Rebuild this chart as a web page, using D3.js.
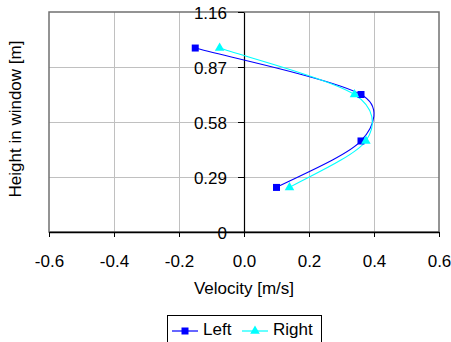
<!DOCTYPE html>
<html><head><meta charset="utf-8">
<script src="https://cdn.jsdelivr.net/npm/d3@7"></script>
<style>body{margin:0;background:#fff}svg{display:block}text{font-family:"Liberation Sans",Arial,sans-serif;fill:#000}</style>
</head><body><div id="chart"></div>
<script>
const heights = [0.97, 0.725, 0.48, 0.235];
const leftValues = [-0.15, 0.36, 0.36, 0.10];
const rightValues = [-0.075, 0.34, 0.375, 0.14];
const xTicks = [-0.6, -0.4, -0.2, 0.0, 0.2, 0.4, 0.6];
const yTicks = [0, 0.29, 0.58, 0.87, 1.16];
const seriesNames = ["Left", "Right"];
const seriesColors = ["#0000ff", "#00ffff"];

const W = 451, H = 342;
const svg = d3.select("#chart").append("svg").attr("width", W).attr("height", H);
const x = d3.scaleLinear().domain([-0.6, 0.6]).range([49, 439]);
const y = d3.scaleLinear().domain([0, 1.16]).range([232, 12]);
const FS = 17;

// Excel-like smoothing curve (Bezier, tension 1/6, arm capped at half segment)
function ExcelCurve(context) { this._context = context; }
ExcelCurve.prototype = {
  areaStart() {}, areaEnd() {},
  lineStart() { this._pts = []; },
  point(px, py) { this._pts.push([+px, +py]); },
  lineEnd() {
    const p = this._pts, c = this._context, n = p.length;
    if (!n) return;
    const dist = (a, b) => Math.hypot(a[0] - b[0], a[1] - b[1]);
    c.moveTo(p[0][0], p[0][1]);
    for (let i = 0; i < n - 1; i++) {
      const p0 = p[i - 1] || p[i], p1 = p[i], p2 = p[i + 1], p3 = p[i + 2] || p[i + 1];
      const d12 = dist(p1, p2), d02 = dist(p0, p2), d13 = dist(p1, p3);
      const f1 = d02 > 0 ? Math.min(1 / 6, d12 / 2 / d02) : 0;
      const f2 = d13 > 0 ? Math.min(1 / 6, d12 / 2 / d13) : 0;
      c.bezierCurveTo(p1[0] + (p2[0] - p0[0]) * f1, p1[1] + (p2[1] - p0[1]) * f1,
                      p2[0] - (p3[0] - p1[0]) * f2, p2[1] - (p3[1] - p1[1]) * f2,
                      p2[0], p2[1]);
    }
  }
};
const curveExcel = ctx => new ExcelCurve(ctx);

// gridlines
svg.append("g").selectAll("line").data(xTicks.filter(t => t > -0.6 && t < 0.6 && t !== 0)).enter()
  .append("line").attr("x1", d => Math.round(x(d)) + 0.5).attr("x2", d => Math.round(x(d)) + 0.5)
  .attr("y1", y(1.16)).attr("y2", y(0)).attr("stroke", "#c0c0c0").attr("stroke-width", 1);
svg.append("g").selectAll("line").data(yTicks.filter(t => t > 0 && t < 1.16)).enter()
  .append("line").attr("y1", d => Math.round(y(d)) + 0.5).attr("y2", d => Math.round(y(d)) + 0.5)
  .attr("x1", x(-0.6)).attr("x2", x(0.6)).attr("stroke", "#c0c0c0").attr("stroke-width", 1);

// frame
svg.append("rect").attr("x", x(-0.6)).attr("y", y(1.16)).attr("width", x(0.6) - x(-0.6)).attr("height", y(0) - y(1.16))
  .attr("fill", "none").attr("stroke", "#707070").attr("stroke-width", 1.5);

// x axis
const xAxis = d3.axisBottom(x).tickValues(xTicks).tickFormat(d3.format(".1f")).tickSize(5).tickSizeOuter(0);
const gx = svg.append("g").attr("transform", `translate(0,${y(0)})`).call(xAxis);
gx.select(".domain").attr("stroke", "#000").attr("stroke-width", 1.5);
gx.selectAll(".tick line").attr("stroke", "#000");
gx.selectAll(".tick text").attr("font-size", FS).attr("font-family", '"Liberation Sans",Arial,sans-serif')
  .attr("y", 0).attr("dy", 0).attr("transform", "translate(0,35)").attr("fill", "#000")
  .text(d => d3.format(".1f")(d).replace("−", "-"));

// y axis at x=0
const yAxis = d3.axisLeft(y).tickValues(yTicks).tickFormat(d => d === 0 ? "0" : d3.format(".2f")(d)).tickSize(6).tickSizeOuter(0);
const gy = svg.append("g").attr("transform", `translate(${x(0)},0)`).call(yAxis);
gy.select(".domain").attr("stroke", "#000").attr("stroke-width", 1.2);
gy.selectAll(".tick line").attr("stroke", "#000").attr("x2", -6);
gy.selectAll(".tick text").attr("font-size", FS).attr("font-family", '"Liberation Sans",Arial,sans-serif')
  .attr("x", -17).attr("dy", "0.36em").attr("fill", "#000");

// axis titles
svg.append("text").attr("x", 244).attr("y", 294).attr("text-anchor", "middle").attr("font-size", FS).text("Velocity [m/s]");
svg.append("text").attr("transform", "translate(21,119) rotate(-90)").attr("text-anchor", "middle").attr("font-size", FS).text("Height in window [m]");

// series
const series = [leftValues, rightValues];
const line = d3.line().x(d => x(d[0])).y(d => y(d[1])).curve(curveExcel);
series.forEach((vals, i) => {
  const pts = vals.map((v, j) => [v, heights[j]]);
  svg.append("path").attr("d", line(pts)).attr("fill", "none").attr("stroke", seriesColors[i]).attr("stroke-width", 1.1);
});
const sym = [d3.symbolSquare, d3.symbolTriangle];
const symSize = [49, 40];
series.forEach((vals, i) => {
  svg.append("g").selectAll("path").data(vals.map((v, j) => [v, heights[j]])).enter()
    .append("path").attr("d", d3.symbol().type(sym[i]).size(symSize[i]))
    .attr("transform", d => `translate(${x(d[0])},${y(d[1])})`).attr("fill", seriesColors[i]);
});

// legend
const lg = svg.append("g");
lg.append("rect").attr("x", 167.5).attr("y", 315.5).attr("width", 154).attr("height", 40).attr("fill", "#fff").attr("stroke", "#000").attr("stroke-width", 1);
const legX = [172, 242];
seriesNames.forEach((n, i) => {
  lg.append("line").attr("x1", legX[i]).attr("x2", legX[i] + 26).attr("y1", 331).attr("y2", 331).attr("stroke", seriesColors[i]).attr("stroke-width", 1.2);
  lg.append("path").attr("d", d3.symbol().type(sym[i]).size(symSize[i])).attr("transform", `translate(${legX[i] + 13},331)`).attr("fill", seriesColors[i]);
  lg.append("text").attr("x", legX[i] + 31).attr("y", 335).attr("font-size", FS).text(n);
});
</script></body></html>
